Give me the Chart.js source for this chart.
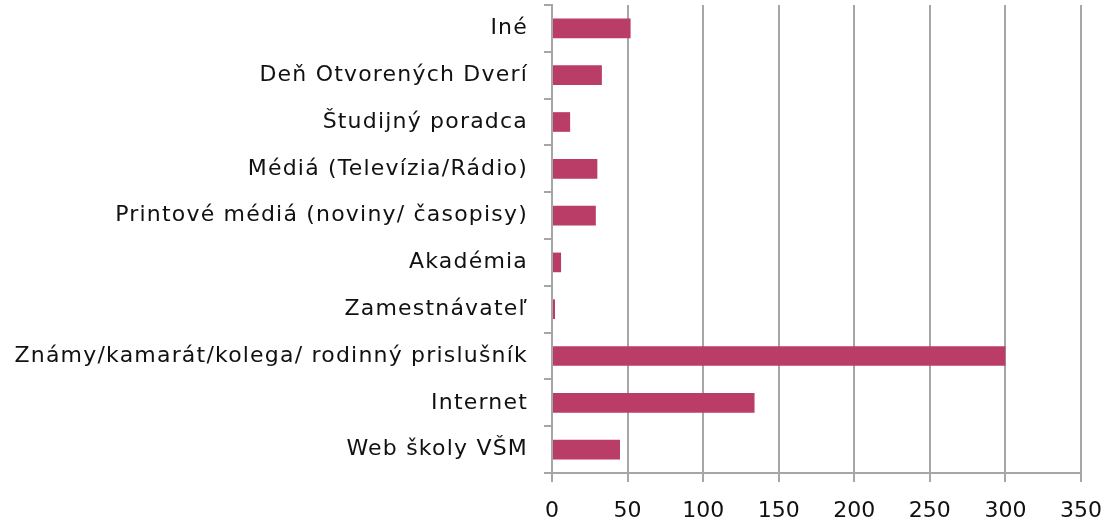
<!DOCTYPE html>
<html>
<head>
<meta charset="utf-8">
<script src="https://cdn.jsdelivr.net/npm/chart.js@4"></script>
<style>
  html, body { margin: 0; padding: 0; background: #fff; }
  #wrap { width: 1104px; height: 524px; }
</style>
</head>
<body>
<div id="wrap"><canvas id="chart" width="1104" height="524"></canvas></div>
<script>
// kategórie zhora nadol
const categories = [
  "Iné",
  "Deň Otvorených Dverí",
  "Študijný poradca",
  "Médiá (Televízia/Rádio)",
  "Printové médiá (noviny/ časopisy)",
  "Akadémia",
  "Zamestnávateľ",
  "Známy/kamarát/kolega/ rodinný prislušník",
  "Internet",
  "Web školy VŠM"
];
const counts = [52, 33, 12, 30, 29, 6, 2, 300, 134, 45];
const xTicks = [0, 50, 100, 150, 200, 250, 300, 350];

const barColor = "#b93d67";
const gridColor = "#a6a6a6";
const font = { family: "DejaVu Sans", size: 22 };

// širší rozostup písmen len pre popisy kategórií
const spacing = {
  id: "spacing",
  beforeDraw(chart) {
    chart.ctx.letterSpacing = "1.2px";
    const x = chart.scales.x;
    if (x && !x._wrapped) {
      const orig = x.drawLabels.bind(x);
      x.drawLabels = area => {
        chart.ctx.letterSpacing = "0px";
        orig(area);
        chart.ctx.letterSpacing = "1.2px";
      };
      x._wrapped = true;
    }
  }
};

new Chart(document.getElementById("chart"), {
  type: "bar",
  data: {
    labels: categories,
    datasets: [{
      data: counts,
      backgroundColor: barColor,
      borderWidth: 0,
      barPercentage: 0.42,
      categoryPercentage: 1
    }]
  },
  options: {
    indexAxis: "y",
    responsive: false,
    animation: false,
    layout: { padding: { top: 5, right: 23, left: 0, bottom: 0 } },
    plugins: { legend: { display: false }, tooltip: { enabled: false } },
    scales: {
      x: {
        min: 0,
        max: 350,
        afterBuildTicks: s => { s.ticks = xTicks.map(v => ({ value: v })); },
        grid: { color: gridColor, lineWidth: 2, tickLength: 9 },
        border: { color: gridColor, width: 2 },
        ticks: { color: "#111", font, padding: 16, maxRotation: 0 },
        afterFit: s => { s.height = 51; s.paddingLeft = 0; s.paddingRight = 0; }
      },
      y: {
        grid: { drawOnChartArea: false, color: gridColor, lineWidth: 2, tickLength: 8, offset: true },
        border: { color: gridColor, width: 2 },
        ticks: { color: "#111", font, padding: 16, autoSkip: false },
        afterFit: s => { s.width = 552; s.paddingTop = 0; s.paddingBottom = 0; }
      }
    }
  },
  plugins: [spacing]
});
</script>
</body>
</html>
